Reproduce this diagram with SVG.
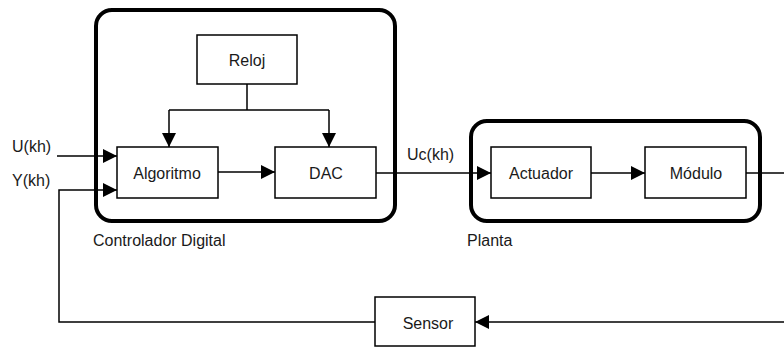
<svg xmlns="http://www.w3.org/2000/svg" width="784" height="347" viewBox="0 0 784 347">
<style>
.grp{fill:none;stroke:#000;stroke-width:4}
.box{fill:#fff;stroke:#000;stroke-width:1.5}
.ln{fill:none;stroke:#000;stroke-width:1.5}
text{font-family:"Liberation Sans",Arial,sans-serif;font-size:16px;fill:#1a1a1a}
.c{text-anchor:middle}
</style>
<defs>
<marker id="ah" viewBox="0 0 14 14" refX="14" refY="7" markerWidth="14" markerHeight="14" markerUnits="userSpaceOnUse" orient="auto">
<path d="M0,0 L14,7 L0,14 Z" fill="#000"/>
</marker>
</defs>
<rect width="784" height="347" fill="#fff"/>
<g id="controlador">
<rect class="grp" x="96" y="10" width="299" height="211" rx="16"/>
<text x="93" y="246">Controlador Digital</text>
</g>
<g id="planta">
<rect class="grp" x="471" y="121" width="289" height="100" rx="16"/>
<text x="467" y="246">Planta</text>
</g>
<g id="connectors">
<path class="ln" d="M247,84 V110 M169,110 H329"/>
<path class="ln" d="M169,110 V147" marker-end="url(#ah)"/>
<path class="ln" d="M329,110 V147" marker-end="url(#ah)"/>
<path class="ln" d="M57,156 H117" marker-end="url(#ah)"/>
<path class="ln" d="M475,322 H59 V190 H117" marker-end="url(#ah)"/>
<path class="ln" d="M218,172 H275" marker-end="url(#ah)"/>
<path class="ln" d="M376,173 H491" marker-end="url(#ah)"/>
<path class="ln" d="M591,173 H645" marker-end="url(#ah)"/>
<path class="ln" d="M746,173 H784"/>
<path class="ln" d="M784,322 H475" marker-end="url(#ah)"/>
</g>
<g id="reloj">
<rect class="box" x="197" y="35" width="100" height="49"/>
<text class="c" x="247" y="66">Reloj</text>
</g>
<g id="algoritmo">
<rect class="box" x="117" y="147" width="101" height="51"/>
<text class="c" x="167" y="179">Algoritmo</text>
</g>
<g id="dac">
<rect class="box" x="275" y="147" width="101" height="51"/>
<text class="c" x="326" y="179">DAC</text>
</g>
<g id="actuador">
<rect class="box" x="491" y="147" width="100" height="51"/>
<text class="c" x="541" y="179">Actuador</text>
</g>
<g id="modulo">
<rect class="box" x="645" y="147" width="101" height="51"/>
<text class="c" x="696" y="179">Módulo</text>
</g>
<g id="sensor">
<rect class="box" x="375" y="297" width="100" height="49"/>
<text class="c" x="428" y="329">Sensor</text>
</g>
<g id="labels">
<text x="12" y="152">U(kh)</text>
<text x="12" y="186">Y(kh)</text>
<text x="407" y="160">Uc(kh)</text>
</g>
</svg>
